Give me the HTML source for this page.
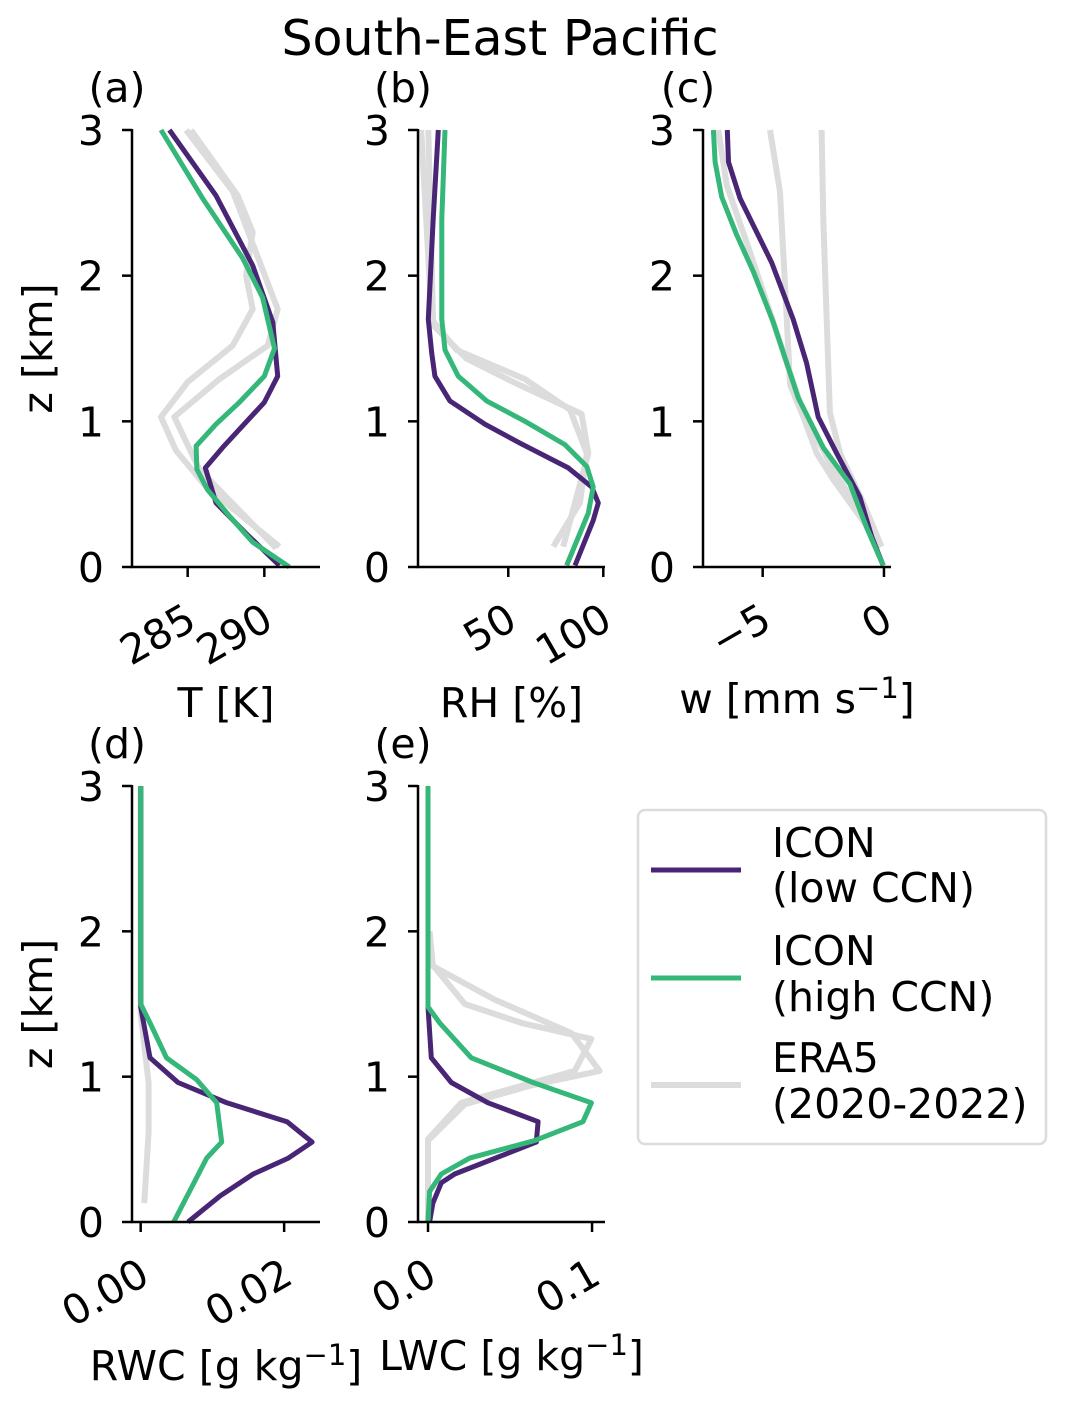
<!DOCTYPE html>
<html><head><meta charset="utf-8"><style>
html,body{margin:0;padding:0;background:#fff;}
svg text{font-family:"DejaVu Sans","Liberation Sans",sans-serif;fill:#000;}
</style></head><body>
<svg id="fig" width="1068" height="1408" viewBox="0 0 1068 1408" xmlns="http://www.w3.org/2000/svg">
<text x="500" y="55" font-size="49" text-anchor="middle">South-East Pacific</text>
<g id="plots"></g>
<g>
<rect x="638" y="810" width="408" height="334" rx="7" fill="#fff" stroke="#dcdcdc" stroke-width="2.5"/>
<line x1="651" y1="870" x2="741" y2="870" stroke="#482575" stroke-width="5"/>
<text x="772" y="857" font-size="41">ICON</text>
<text x="772" y="902" font-size="41">(low CCN)</text>
<line x1="651" y1="978" x2="741" y2="978" stroke="#35b779" stroke-width="5"/>
<text x="772" y="965" font-size="41">ICON</text>
<text x="772" y="1011" font-size="41">(high CCN)</text>
<line x1="651" y1="1085" x2="741" y2="1085" stroke="#dcdcdc" stroke-width="6"/>
<text x="772" y="1072" font-size="41">ERA5</text>
<text x="772" y="1118" font-size="41">(2020-2022)</text>
</g>
</svg>
<script>
// ---- data (values in data units; z in km) ----
const aLowX=[283.81,286.85,289.24,290.55,290.87,290.0,287.28,286.15,286.85,288.81,290.98];
const aLowZ=[3,2.55,2.07,1.68,1.31,1.13,0.82,0.68,0.44,0.23,0.01];
const aHighX=[283.26,285.98,288.59,289.89,290.66,290.0,288.37,286.85,285.55,285.6,286.3,287.72,289.24,291.63];
const aHighZ=[3,2.53,2.12,1.85,1.50,1.31,1.13,0.98,0.83,0.67,0.53,0.35,0.17,0];
const aEra1X=[284.9,287.94,290.11,290.87,290.22,287.07,284.13,285.76,290.77];
const aEra1Z=[3,2.58,1.98,1.77,1.52,1.29,1.03,0.67,0.13];
const aEra2X=[285.22,288.26,289.24,288.81,289.24,287.94,285.0,283.26,284.24,286.2,290.98];
const aEra2Z=[3,2.55,2.30,2.0,1.77,1.52,1.27,1.03,0.80,0.55,0.14];

const bLowX=[13.2,10.5,7.9,9.7,11.4,19.3,37.7,56.2,81.6,93.9,97.4,94.7,85.1];
const bLowZ=[3,2.39,1.70,1.47,1.31,1.14,0.98,0.85,0.68,0.55,0.44,0.32,0.01];
const bHighX=[16.7,15.0,15.0,16.7,23.7,38.6,58.8,79.8,91.3,94.7,92.1,80.7];
const bHighZ=[3,2.39,1.70,1.49,1.31,1.14,1.0,0.84,0.69,0.55,0.37,0.01];
const bEra1X=[4.2,9.7,22.8,58.8,82.5,91.3,87.7,73.7];
const bEra1Z=[3,1.70,1.49,1.29,1.08,0.78,0.44,0.14];
const bEra2X=[7.9,10.5,28.1,52.6,88.6,92.1,78.9];
const bEra2Z=[3,1.66,1.43,1.27,1.05,0.78,0.14];

const cLowX=[-6.46,-6.41,-5.93,-5.25,-4.63,-3.74,-3.19,-2.71,-1.95,-0.99,-0.51,-0.03];
const cLowZ=[3,2.78,2.53,2.30,2.09,1.70,1.40,1.03,0.78,0.48,0.21,0.01];
const cHighX=[-7.03,-6.96,-6.69,-6.07,-5.39,-4.56,-3.53,-2.50,-1.40,-0.71,-0.03];
const cHighZ=[3,2.78,2.54,2.28,2.03,1.68,1.16,0.82,0.57,0.27,0.01];
const cEra1X=[-6.83,-6.48,-5.52,-4.42,-3.32,-2.09,-0.1];
const cEra1Z=[3,2.62,2.16,1.61,1.06,0.67,0.14];
const cEra2X=[-4.70,-4.29,-4.08,-3.87,-3.32,-2.77,-2.09,-0.1];
const cEra2Z=[3,2.58,1.94,1.25,1.03,0.78,0.60,0.14];
const cEra3X=[-2.57,-2.50,-2.36,-2.23,-1.81,-0.85,-0.1];
const cEra3Z=[3,2.39,1.70,1.06,0.78,0.44,0.14];

const dLowX=[0,0,0.0013,0.0052,0.0120,0.0204,0.0239,0.0206,0.0157,0.0111,0.0066];
const dLowZ=[3,1.48,1.13,0.96,0.82,0.69,0.55,0.44,0.33,0.18,0];
const dHighX=[0,0,0.0013,0.0036,0.0078,0.0106,0.0113,0.0092,0.0046];
const dHighZ=[3,1.50,1.37,1.13,0.98,0.82,0.55,0.44,0];
const dEraX=[0,0,0.0011,0.0011,0.0005];
const dEraZ=[3,1.43,0.96,0.62,0.13];

const eLowX=[0,0,0.002,0.0142,0.0366,0.0671,0.066,0.0163,0.0081,0.003,0.001];
const eLowZ=[3,1.48,1.13,0.96,0.82,0.69,0.55,0.33,0.27,0.13,0];
const eHighX=[0,0,0.0071,0.0264,0.064,0.0996,0.0945,0.065,0.0254,0.0081,0.001,0];
const eHighZ=[3,1.48,1.37,1.13,0.96,0.82,0.69,0.56,0.44,0.33,0.21,0];
const eEra1X=[0.001,0.002,0.0224,0.0569,0.0996,0.0894,0.0203,0,0];
const eEra1Z=[2.0,1.78,1.50,1.37,1.26,1.04,0.82,0.57,0.01];
const eEra2X=[0.001,0.003,0.0406,0.0874,0.1046,0.063,0.0224,0];
const eEra2Z=[2.0,1.76,1.53,1.30,1.04,0.94,0.81,0.56];

const zTicks=[0,1,2,3];
const aTicks=[285,290], bTicks=[50,100], cTicks=[-5,0], dTicks=[0,0.02], eTicks=[0,0.1];
const aTickLabels=["285","290"], bTickLabels=["50","100"], cTickLabels=["\u22125","0"], dTickLabels=["0.00","0.02"], eTickLabels=["0.0","0.1"];

const NS="http://www.w3.org/2000/svg";
const root=document.getElementById('plots');
function mk(tag,attrs,parent){const e=document.createElementNS(NS,tag);for(const k in attrs)e.setAttribute(k,attrs[k]);(parent||root).appendChild(e);return e;}

function panel(id,px0,px1,py0,py1,xmin,xmax,ticks,tlabels,xlabel,xlabelY,letter,series,showZLabel){
  const g=mk('g',{});
  
  
  const sx=v=>px0+(v-xmin)/(xmax-xmin)*(px1-px0);
  const sy=z=>py1-(z/3)*(py1-py0);
  series.forEach(s=>{
    const pts=s.x.map((v,i)=>sx(v).toFixed(1)+','+sy(s.z[i]).toFixed(1)).join(' ');
    const pl=mk('polyline',{points:pts,fill:'none',stroke:s.c,'stroke-width':s.w,'stroke-linejoin':'round'},g);
    
    
  });
  const ax=mk('path',{d:`M${px0},${py0-1}V${py1}H${px1}`,fill:'none',stroke:'#000','stroke-width':2.5},g);
  
  
  zTicks.forEach(z=>{
    mk('line',{x1:px0-10,x2:px0,y1:sy(z),y2:sy(z),stroke:'#000','stroke-width':2.5},g);
    const t=mk('text',{x:px0-28,y:sy(z)+15,'font-size':41,'text-anchor':'end'},g);
    t.textContent=String(z);
    
    
  });
  ticks.forEach((v,i)=>{
    const x=sx(v);
    mk('line',{x1:x,x2:x,y1:py1,y2:py1+10,stroke:'#000','stroke-width':2.5},g);
    const ex=x+11, ey=py1+60;
    const t=mk('text',{x:ex,y:ey,'font-size':41,'text-anchor':'end',transform:`rotate(-30 ${ex} ${ey})`},g);
    t.textContent=tlabels[i];
    
    
  });
  const xl=mk('text',{x:(px0+px1)/2,y:xlabelY,'font-size':41,'text-anchor':'middle'},g);
  xl.innerHTML=xlabel;
  
  
  const pl=mk('text',{x:px0-15,y:py0-28,'font-size':41,'text-anchor':'middle'},g);
  pl.textContent='('+letter+')';
  
  
  if(showZLabel){
    const yl=mk('text',{x:0,y:0,'font-size':41,'text-anchor':'middle',transform:`translate(52 ${(py0+py1)/2}) rotate(-90)`},g);
    yl.textContent='z [km]';
    
    
  }
}
const P='#482575',G='#35b779',E='#dcdcdc';
const sup='<tspan dy="-15" font-size="29">\u22121</tspan><tspan dy="15">]</tspan>';
panel('a',132,320,130,567,281.37,293.63,aTicks,aTickLabels,'T [K]',717,'a',[
 {x:aEra1X,z:aEra1Z,c:E,w:6,n:'era5-1'},{x:aEra2X,z:aEra2Z,c:E,w:6,n:'era5-2'},
 {x:aLowX,z:aLowZ,c:P,w:5,n:'low-ccn'},{x:aHighX,z:aHighZ,c:G,w:5,n:'high-ccn'}],true);
panel('b',418,605,130,567,2.5,100.9,bTicks,bTickLabels,'RH [%]',717,'b',[
 {x:bEra1X,z:bEra1Z,c:E,w:6,n:'era5-1'},{x:bEra2X,z:bEra2Z,c:E,w:6,n:'era5-2'},
 {x:bLowX,z:bLowZ,c:P,w:5,n:'low-ccn'},{x:bHighX,z:bHighZ,c:G,w:5,n:'high-ccn'}],false);
panel('c',703,891,130,567,-7.46,0.29,cTicks,cTickLabels,'w [mm s'+sup,713,'c',[
 {x:cEra1X,z:cEra1Z,c:E,w:6,n:'era5-1'},{x:cEra2X,z:cEra2Z,c:E,w:6,n:'era5-2'},{x:cEra3X,z:cEra3Z,c:E,w:6,n:'era5-3'},
 {x:cLowX,z:cLowZ,c:P,w:5,n:'low-ccn'},{x:cHighX,z:cHighZ,c:G,w:5,n:'high-ccn'}],false);
panel('d',132,320,786,1222,-0.00121,0.0250,dTicks,dTickLabels,'RWC [g kg'+sup,1380,'d',[
 {x:dEraX,z:dEraZ,c:E,w:6,n:'era5'},
 {x:dLowX,z:dLowZ,c:P,w:5,n:'low-ccn'},{x:dHighX,z:dHighZ,c:G,w:5,n:'high-ccn'}],true);
panel('e',418,605,786,1222,-0.0061,0.1079,eTicks,eTickLabels,'LWC [g kg'+sup,1370,'e',[
 {x:eEra1X,z:eEra1Z,c:E,w:6,n:'era5-1'},{x:eEra2X,z:eEra2Z,c:E,w:6,n:'era5-2'},
 {x:eLowX,z:eLowZ,c:P,w:5,n:'low-ccn'},{x:eHighX,z:eHighZ,c:G,w:5,n:'high-ccn'}],false);
</script>
</body></html>
